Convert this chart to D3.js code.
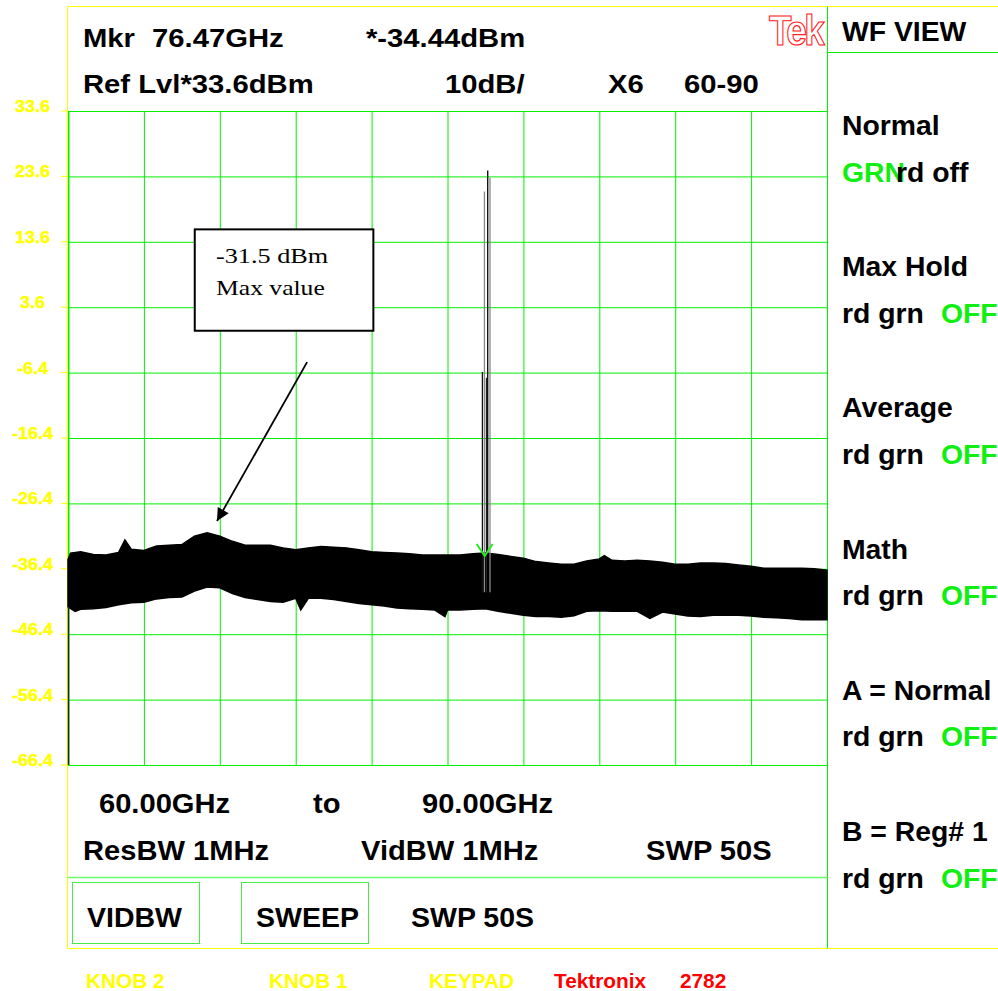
<!DOCTYPE html>
<html>
<head>
<meta charset="utf-8">
<script src="https://cdn.jsdelivr.net/npm/d3@7"></script>
<style>
  body { margin: 0; background: #fff; }
  svg { display: block; font-family: "Liberation Sans", Arial, sans-serif; font-weight: bold; }
  text { white-space: pre; }
</style>
</head>
<body>
<div id="chart"></div>
<script>
// trace envelope (GHz, dBm); extra points are the visible noise spikes
const upperFreqs = [60.0, 60.1, 60.5, 61.0, 61.5, 62.0, 62.25, 62.5, 63.0, 63.5, 64.0, 64.5, 65.0, 65.5, 66.0, 66.5, 67.0, 67.5,
  68.0, 68.5, 69.0, 69.5, 70.0, 70.5, 71.0, 71.5, 72.0, 72.5, 73.0, 73.5, 74.0, 74.5, 75.0, 75.5, 76.0, 76.5,
  77.0, 77.5, 78.0, 78.5, 79.0, 79.5, 80.0, 80.5, 81.0, 81.2, 81.5, 82.0, 82.5, 83.0, 83.5, 84.0, 84.5, 85.0, 85.5,
  86.0, 86.5, 87.0, 87.5, 88.0, 88.5, 89.0, 89.5, 90.0];
const upperVals = [-35.0, -34.0, -33.8, -34.2, -34.3, -33.9, -32.0, -33.4, -33.6, -32.9, -32.8, -32.7, -31.4, -30.9, -31.4, -32.2, -32.8, -32.8,
  -32.8, -33.2, -33.5, -33.2, -33.0, -33.1, -33.2, -33.5, -33.8, -33.9, -34.0, -34.1, -34.3, -34.3, -34.3, -34.3, -34.1, -34.0,
  -34.2, -34.5, -34.8, -35.3, -35.5, -35.7, -35.7, -35.2, -34.9, -34.4, -35.1, -35.2, -35.1, -35.2, -35.4, -35.7, -35.7, -35.5, -35.5,
  -35.6, -35.8, -36.0, -36.3, -36.3, -36.3, -36.3, -36.4, -36.6];
const lowerFreqs = [60.0, 60.28, 60.5, 61.0, 61.5, 62.0, 62.5, 63.0, 63.5, 64.0, 64.5, 65.0, 65.5, 66.0, 66.5, 67.0, 67.5,
  68.0, 68.5, 69.0, 69.2, 69.5, 70.0, 70.5, 71.0, 71.5, 72.0, 72.5, 73.0, 73.5, 74.0, 74.5, 74.9, 75.0, 75.5, 76.0, 76.5,
  77.0, 77.5, 78.0, 78.5, 79.0, 79.5, 80.0, 80.5, 81.0, 81.5, 82.0, 82.5, 83.0, 83.5, 84.0, 84.5, 85.0, 85.5,
  86.0, 86.5, 87.0, 87.5, 88.0, 88.5, 89.0, 89.5, 90.0];
const lowerVals = [-42.2, -42.9, -42.6, -42.5, -42.3, -41.9, -41.6, -41.5, -41.0, -40.8, -40.7, -39.8, -39.2, -39.3, -40.2, -40.8, -41.1,
  -41.4, -41.5, -40.9, -42.7, -40.9, -40.9, -41.1, -41.4, -41.7, -41.9, -42.1, -42.4, -42.5, -42.6, -42.7, -43.7, -42.7, -42.7, -42.6, -42.5,
  -42.9, -43.2, -43.5, -43.7, -43.7, -43.8, -43.6, -42.9, -42.8, -42.9, -42.9, -42.9, -44.0, -43.0, -43.3, -43.6, -43.7, -43.5,
  -43.5, -43.5, -43.6, -43.8, -43.9, -44.0, -44.2, -44.2, -44.2];
const traceStart = -66.4;

// spurious lines near the marker
const spikeFreqs = [76.38, 76.46, 76.54, 76.59, 76.68];
const spikeTops = [-6.3, 21.3, -7.2, 24.5, 23.4];
const spikeBase = -40;
const spikeShade = ["#111", "#888", "#222", "#000", "#888"];

const markerFreq = 76.47;
const markerLevel = -34.44;

const yTickLabels = ["33.6", "23.6", "13.6", "3.6", "-6.4", "-16.4", "-26.4", "-36.4", "-46.4", "-56.4", "-66.4"];
const xGridTicks = [60, 63, 66, 69, 72, 75, 78, 81, 84, 87, 90];

const W = 998, H = 991;
const green = "#00f000", yellow = "#ffff00";

const svg = d3.select("#chart").append("svg").attr("width", W).attr("height", H);

const x = d3.scaleLinear().domain([60, 90]).range([68, 827]);
const y = d3.scaleLinear().domain([-66.4, 33.6]).range([765, 111]);

// grid
svg.append("g")
  .attr("transform", `translate(0,${y(-66.4)})`)
  .call(d3.axisBottom(x).tickValues(xGridTicks).tickSize(-(y(-66.4) - y(33.6))).tickFormat(""))
  .call(g => g.select(".domain").remove())
  .call(g => g.selectAll("line").attr("stroke", green));

svg.append("g")
  .attr("transform", `translate(${x(60)},0)`)
  .call(d3.axisLeft(y).tickValues(yTickLabels.map(Number)).tickSize(-(x(90) - x(60))).tickFormat(""))
  .call(g => g.select(".domain").remove())
  .call(g => g.selectAll("line").attr("stroke", green));

svg.append("line").attr("x1", 68.5).attr("x2", 68.5).attr("y1", y(33.6)).attr("y2", y(-66.4))
  .attr("stroke", green).attr("stroke-width", 2);

// yellow ticks and labels
svg.append("g").selectAll("line").data(yTickLabels).join("line")
  .attr("x1", 61).attr("x2", 67).attr("y1", d => y(+d)).attr("y2", d => y(+d))
  .attr("stroke", yellow);
svg.append("g").selectAll("text").data(yTickLabels).join("text")
  .attr("transform", d => `translate(32.5,${y(+d) + 1}) scale(1.12,1)`)
  .attr("text-anchor", "middle").attr("fill", yellow)
  .attr("stroke", yellow).attr("stroke-width", 0.4)
  .style("font-size", "16px")
  .text(d => d);

// frame
const frame = svg.append("g").attr("fill", "none");
frame.append("path").attr("d", "M67.5,948.5V6.5H998").attr("stroke", yellow);
frame.append("path").attr("d", "M67.5,948.5H998").attr("stroke", yellow);
frame.append("path").attr("d", "M827.5,6.5V948.5").attr("stroke", green);
frame.append("path").attr("d", "M827.5,52.5H998").attr("stroke", green);
frame.append("path").attr("d", "M67.5,877.5H827.5").attr("stroke", "#66ff66").attr("stroke-width", 1.5);
frame.append("rect").attr("x", 72.5).attr("y", 882.5).attr("width", 127).attr("height", 61).attr("stroke", "#44ee44");
frame.append("rect").attr("x", 241.5).attr("y", 882.5).attr("width", 127).attr("height", 61).attr("stroke", "#44ee44");

// trace band: upper envelope forward, lower envelope back
const upperPts = upperFreqs.map((f, i) => [x(f), y(upperVals[i])]);
const lowerPts = lowerFreqs.map((f, i) => [x(f), y(lowerVals[i])]).reverse();
svg.append("path").attr("d", d3.line()(upperPts.concat(lowerPts)) + "Z")
  .attr("fill", "#000").attr("stroke", "#000").attr("stroke-width", 1.5).attr("stroke-linejoin", "miter");
svg.append("line")
  .attr("x1", x(upperFreqs[0]) + 0.5).attr("x2", x(upperFreqs[0]) + 0.5)
  .attr("y1", y(traceStart)).attr("y2", y(lowerVals[0]))
  .attr("stroke", "#222").attr("stroke-width", 1.5);

svg.append("g").selectAll("line").data(spikeFreqs).join("line")
  .attr("x1", d => x(d)).attr("x2", d => x(d))
  .attr("y1", y(spikeBase)).attr("y2", (d, i) => y(spikeTops[i]))
  .attr("stroke", (d, i) => spikeShade[i]).attr("stroke-width", 1.3);

// marker
const mx = x(markerFreq), my = y(markerLevel);
svg.append("path").attr("d", `M${mx - 8},${my - 12}L${mx},${my}L${mx + 8},${my - 12}`)
  .attr("fill", "none").attr("stroke", "#22ee22").attr("stroke-width", 2);

// annotation box and arrow
svg.append("defs").append("marker")
  .attr("id", "head").attr("viewBox", "0 0 10 10").attr("refX", 10).attr("refY", 5)
  .attr("markerWidth", 9).attr("markerHeight", 7).attr("markerUnits", "strokeWidth").attr("orient", "auto")
  .append("path").attr("d", "M0,0L10,5L0,10z").attr("fill", "#000");
svg.append("line")
  .attr("x1", x(69.45)).attr("y1", y(-4.8)).attr("x2", x(65.89)).attr("y2", y(-29.1))
  .attr("stroke", "#000").attr("stroke-width", 1.8).attr("marker-end", "url(#head)");
svg.append("rect")
  .attr("x", x(65.01)).attr("y", y(15.5)).attr("width", x(72.07) - x(65.01)).attr("height", y(0.0) - y(15.5))
  .attr("fill", "#fff").attr("stroke", "#000").attr("stroke-width", 2);
const note = svg.append("g").style("font-family", '"Liberation Serif", "Times New Roman", serif')
  .style("font-weight", "normal").style("font-size", "21px");
note.append("text").attr("transform", "translate(216,263) scale(1.25,1)").text("-31.5 dBm");
note.append("text").attr("transform", "translate(216,295) scale(1.22,1)").text("Max value");

// screen readouts
function label(t, px, py, size, sx, fill) {
  return svg.append("text")
    .attr("transform", `translate(${px},${py}) scale(${sx},1)`)
    .style("font-size", size + "px").attr("fill", fill || "#000").text(t);
}
label("Mkr", 83, 46.5, 25, 1.17);
label("76.47GHz", 152, 46.5, 25, 1.17);
label("*-34.44dBm", 366, 46.5, 25, 1.17);
label("Ref Lvl*33.6dBm", 83, 93, 25, 1.17);
label("10dB/", 445, 93, 25, 1.17);
label("X6", 608, 93, 25, 1.17);
label("60-90", 684, 93, 25, 1.17);

label("60.00GHz", 99, 813, 28, 1.04);
label("to", 313, 813, 28, 1.04);
label("90.00GHz", 422, 813, 28, 1.04);
label("ResBW 1MHz", 83, 860, 28, 1.04);
label("VidBW 1MHz", 361, 860, 28, 1.04);
label("SWP 50S", 646, 860, 28, 1.04);
label("VIDBW", 87, 927, 28.5, 1.0);
label("SWEEP", 256, 927, 28.5, 1.0);
label("SWP 50S", 411, 927, 28.5, 1.0);

// side menu
label("WF VIEW", 842, 40.5, 27, 1.05);
const menu = [["Normal", null], ["Max Hold", "OFF"], ["Average", "OFF"], ["Math", "OFF"], ["A = Normal", "OFF"], ["B = Reg# 1", "OFF"]];
menu.forEach(([head, state], i) => {
  const by = 135 + i * 141.2;
  label(head, 842, by, 27, 1.05);
  if (state) {
    label("rd grn", 842, by + 46.5, 27, 1.05);
    label(state, 941, by + 46.5, 27, 1.05, "#11ee11");
  } else {
    label("GRN", 842, by + 46.5, 27, 1.05, "#11ee11");
    label("rd off", 896, by + 46.5, 27, 1.05);
  }
});

// footer
label("KNOB 2", 86, 988, 20, 1.04, yellow);
label("KNOB 1", 269, 988, 20, 1.04, yellow);
label("KEYPAD", 429, 988, 20, 1.04, yellow);
label("Tektronix", 554, 988, 20, 1.04, "#ff0000");
label("2782", 680, 988, 20, 1.04, "#ff0000");

// logo
svg.append("text").attr("transform", "translate(769,45) scale(0.86,1)")
  .style("font-size", "43px").style("letter-spacing", "-3px")
  .attr("fill", "#fff").attr("stroke", "#ff2020").attr("stroke-width", 1.2).text("Tek");
</script>
</body>
</html>
